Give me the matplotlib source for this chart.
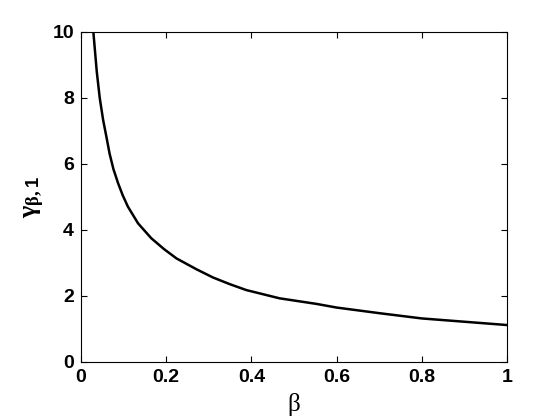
import matplotlib
matplotlib.use("Agg")
import matplotlib.pyplot as plt

beta = [0.029, 0.037, 0.044, 0.052, 0.060, 0.067, 0.076, 0.087, 0.098, 0.110,
        0.134, 0.165, 0.195, 0.224, 0.271, 0.310, 0.349, 0.388, 0.466, 0.553,
        0.6, 0.7, 0.8, 0.9, 1.0]
gamma = [10.0, 8.8, 8.0, 7.33, 6.8, 6.32, 5.85, 5.42, 5.05, 4.71,
         4.20, 3.75, 3.42, 3.14, 2.81, 2.56, 2.36, 2.18, 1.93, 1.76,
         1.65, 1.48, 1.32, 1.22, 1.12]

xticks = [0, 0.2, 0.4, 0.6, 0.8, 1]
xticklabels = ["0", "0.2", "0.4", "0.6", "0.8", "1"]
yticks = [0, 2, 4, 6, 8, 10]
yticklabels = ["0", "2", "4", "6", "8", "10"]

plt.rcParams['font.family'] = ['Liberation Sans', 'DejaVu Sans']
plt.rcParams['font.weight'] = 'bold'
plt.rcParams['mathtext.fontset'] = 'custom'
plt.rcParams['mathtext.rm'] = 'Liberation Serif'
plt.rcParams['mathtext.it'] = 'Liberation Serif'
plt.rcParams['mathtext.bf'] = 'Liberation Sans:bold'

fig = plt.figure(figsize=(5.6, 4.2), dpi=100)
ax = fig.add_axes([81/560, 58/420, 426/560, 330/420])
ax.plot(beta, gamma, color='black', lw=1.8)
ax.set_xlim(0, 1)
ax.set_ylim(0, 10)
ax.set_xticks(xticks)
ax.set_xticklabels(xticklabels)
ax.set_yticks(yticks)
ax.set_yticklabels(yticklabels)
ax.tick_params(direction='in', top=True, right=True, length=4, width=0.8,
               labelsize=14, pad=5)
for lab in ax.get_xticklabels() + ax.get_yticklabels():
    lab.set_fontweight('bold')
for s in ax.spines.values():
    s.set_linewidth(0.8)
ax.set_xlabel('β', fontsize=18, family='Liberation Serif', fontweight='normal', labelpad=5)
ax.set_ylabel(r'$\mathrm{\gamma}_{\mathrm{\beta},\mathbf{1}}$', fontsize=19, labelpad=4)
fig.savefig('out.png', dpi=100)
